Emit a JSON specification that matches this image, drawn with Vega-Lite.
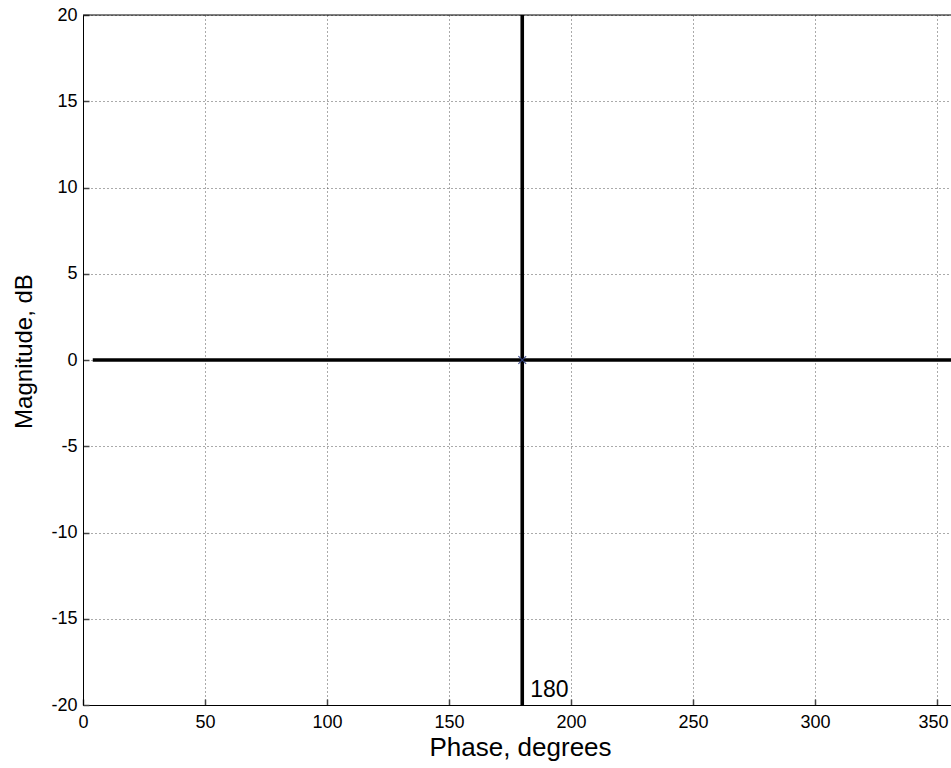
{
  "$schema": "https://vega.github.io/schema/vega-lite/v6.json",
  "width": 868,
  "height": 690,
  "autosize": "none",
  "padding": {"left": 83, "top": 15, "right": 0, "bottom": 63},
  "background": "white",
  "config": {
    "view": {"stroke": null},
    "font": "Liberation Sans",
    "axis": {
      "domainColor": "black",
      "domainWidth": 1,
      "tickColor": "#444",
      "tickSize": -6,
      "tickWidth": 1.5,
      "labelFont": "Liberation Sans",
      "labelFontSize": 18,
      "labelColor": "black",
      "labelExpr": "datum.value + ''",
      "titleFont": "Liberation Sans",
      "titleFontWeight": "normal",
      "titleColor": "black",
      "grid": true,
      "gridColor": "#444",
      "gridDash": [1, 3],
      "gridWidth": 1,
      "gridOpacity": 0.9
    }
  },
  "datasets": {
    "lines": [
      {"series": "magnitude", "phase": 4, "mag": 0},
      {"series": "magnitude", "phase": 360, "mag": 0},
      {"series": "phase180", "phase": 180, "mag": -20},
      {"series": "phase180", "phase": 180, "mag": 20}
    ],
    "marker": [{"phase": 180, "mag": 0}],
    "label": [{"phase": 180, "mag": -20, "text": "180"}]
  },
  "layer": [
    {
      "data": {"name": "lines"},
      "mark": {"type": "line", "color": "black", "strokeWidth": 3.6, "clip": true},
      "encoding": {
        "x": {
          "field": "phase",
          "type": "quantitative",
          "scale": {"domain": [0, 355.7], "nice": false, "zero": false},
          "axis": {
            "values": [0, 50, 100, 150, 200, 250, 300, 350],
            "title": "Phase, degrees",
            "titleFontSize": 26,
            "titleX": 437,
            "titleY": 50,
            "titleBaseline": "alphabetic",
            "labelPadding": 14,
            "labelFlush": false,
            "labelOffset": {"condition": {"test": "datum.value == 350", "value": -4}, "value": 0}
          }
        },
        "y": {
          "field": "mag",
          "type": "quantitative",
          "scale": {"domain": [-20, 20], "nice": false},
          "axis": {
            "values": [-20, -15, -10, -5, 0, 5, 10, 15, 20],
            "title": "Magnitude, dB",
            "titleFontSize": 24,
            "titleX": -59,
            "titleY": 336,
            "titleAngle": -90,
            "titleBaseline": "middle",
            "titleAlign": "center",
            "labelPadding": 12,
            "labelFlush": false
          }
        },
        "detail": {"field": "series"}
      }
    },
    {
      "data": {"name": "marker"},
      "mark": {"type": "point", "shape": "M-1,-1L1,1M-1,1L1,-1", "size": 60, "strokeWidth": 1.2, "color": "#334488", "filled": false, "opacity": 0.9},
      "encoding": {
        "x": {"field": "phase", "type": "quantitative"},
        "y": {"field": "mag", "type": "quantitative"}
      }
    },
    {
      "data": {"name": "label"},
      "mark": {"type": "text", "align": "left", "baseline": "alphabetic", "dx": 8, "dy": -8, "fontSize": 23, "color": "black", "font": "Liberation Sans"},
      "encoding": {
        "x": {"field": "phase", "type": "quantitative"},
        "y": {"field": "mag", "type": "quantitative"},
        "text": {"field": "text"}
      }
    },
    {
      "data": {"values": [{}]},
      "mark": {"type": "rule", "color": "black", "strokeWidth": 1},
      "encoding": {"y": {"datum": 20}}
    }
  ]
}
